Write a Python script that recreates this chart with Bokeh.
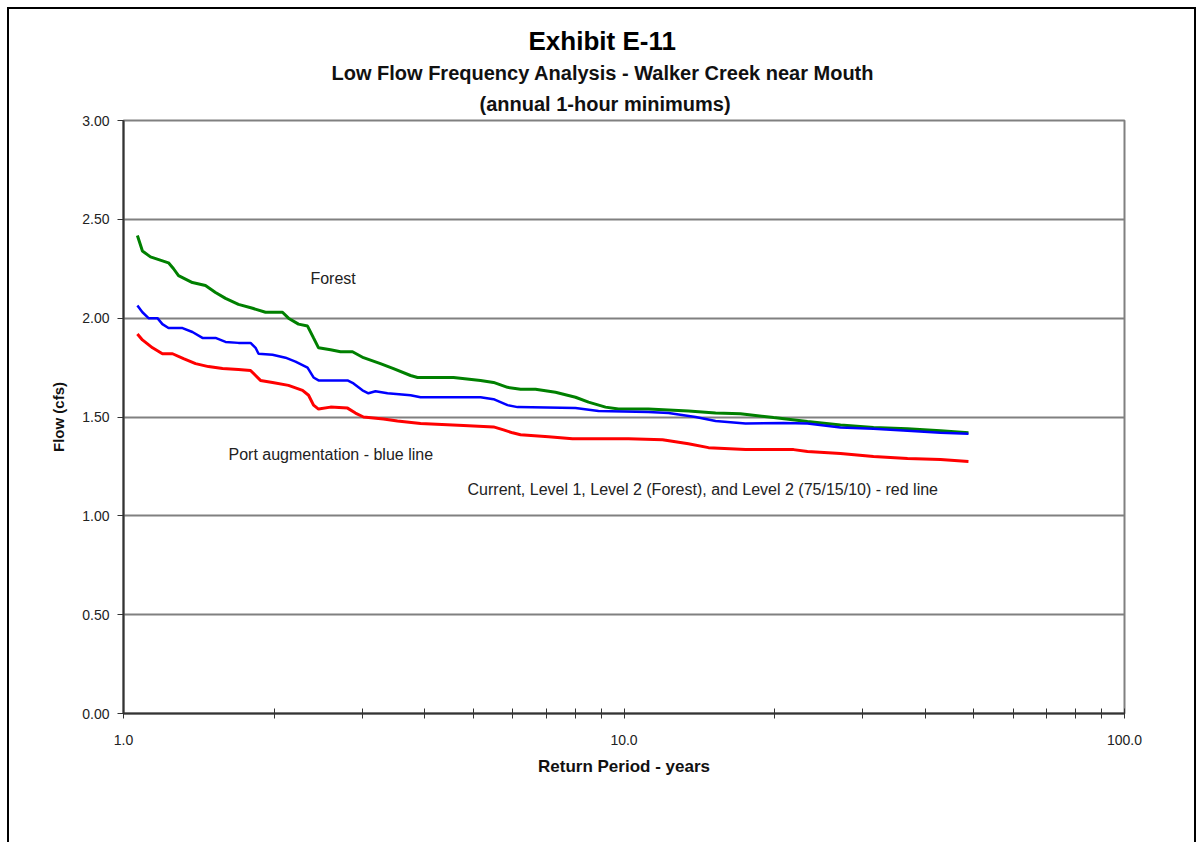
from bokeh.plotting import figure
from bokeh.models import Label, FixedTicker, PrintfTickFormatter, Range1d, Title
from bokeh.embed import file_html
from bokeh.resources import INLINE

# ---------------- data ----------------
forest_x = [1.066, 1.091, 1.132, 1.230, 1.259, 1.288, 1.373, 1.458, 1.527, 1.599,
            1.697, 1.811, 1.922, 2.078, 2.136, 2.237, 2.332, 2.397, 2.453, 2.592,
            2.714, 2.868, 3.016, 3.261, 3.463, 3.745, 3.868, 4.564, 5.168, 5.487,
            5.852, 6.213, 6.656, 7.296, 8.000, 8.494, 9.185, 9.750, 11.19, 13.45,
            15.24, 17.09, 19.90, 23.26, 27.08, 31.51, 36.85, 42.89, 48.78]
forest_y = [2.418, 2.34, 2.31, 2.28, 2.25, 2.215, 2.18, 2.165, 2.13, 2.10,
            2.07, 2.05, 2.03, 2.03, 2.00, 1.97, 1.96, 1.90, 1.85, 1.84,
            1.83, 1.83, 1.80, 1.77, 1.745, 1.71, 1.70, 1.70, 1.685, 1.675,
            1.65, 1.64, 1.64, 1.625, 1.60, 1.575, 1.55, 1.54, 1.54, 1.53,
            1.52, 1.517, 1.497, 1.477, 1.46, 1.447, 1.44, 1.43, 1.42]

port_x = [1.066, 1.091, 1.122, 1.169, 1.196, 1.230, 1.312, 1.373, 1.438, 1.527,
          1.599, 1.697, 1.794, 1.836, 1.861, 1.985, 2.107, 2.206, 2.332, 2.397,
          2.453, 2.803, 2.881, 3.002, 3.086, 3.187, 3.369, 3.745, 3.922, 5.168,
          5.487, 5.852, 6.128, 8.000, 8.894, 11.19, 12.27, 13.90, 15.24, 17.49,
          20.83, 23.26, 27.08, 31.51, 36.85, 42.89, 48.78]
port_y = [2.064, 2.03, 2.00, 2.00, 1.97, 1.95, 1.95, 1.93, 1.90, 1.90,
          1.88, 1.875, 1.875, 1.85, 1.82, 1.815, 1.80, 1.78, 1.75, 1.70,
          1.685, 1.685, 1.67, 1.635, 1.62, 1.63, 1.62, 1.61, 1.60, 1.60,
          1.59, 1.56, 1.55, 1.545, 1.53, 1.525, 1.52, 1.50, 1.48, 1.467,
          1.47, 1.467, 1.447, 1.44, 1.43, 1.42, 1.415]

current_x = [1.066, 1.091, 1.143, 1.196, 1.253, 1.318, 1.393, 1.478, 1.577, 1.697,
             1.794, 1.836, 1.878, 1.985, 2.136, 2.279, 2.343, 2.397, 2.453, 2.592,
             2.803, 2.907, 3.016, 3.307, 3.527, 3.922, 4.778, 5.487, 5.745, 5.988,
             6.213, 7.065, 7.890, 10.21, 11.94, 13.45, 14.75, 17.49, 21.82, 23.26,
             27.08, 31.51, 36.85, 42.89, 48.78]
current_y = [1.92, 1.89, 1.85, 1.82, 1.82, 1.795, 1.77, 1.755, 1.745, 1.74,
             1.735, 1.71, 1.685, 1.675, 1.66, 1.635, 1.61, 1.56, 1.54, 1.55,
             1.545, 1.52, 1.50, 1.49, 1.48, 1.467, 1.457, 1.45, 1.435, 1.42,
             1.41, 1.40, 1.39, 1.39, 1.385, 1.365, 1.345, 1.335, 1.335, 1.325,
             1.315, 1.30, 1.29, 1.285, 1.275]

x_major_ticks = [1, 10, 100]
x_minor_ticks = [2, 3, 4, 5, 6, 7, 8, 9, 20, 30, 40, 50, 60, 70, 80, 90]
y_ticks = [0.0, 0.5, 1.0, 1.5, 2.0, 2.5, 3.0]

title_main = "Exhibit E-11"
title_sub1 = "Low Flow Frequency Analysis - Walker Creek near Mouth"
title_sub2 = "(annual 1-hour minimums)"
label_forest = "Forest"
label_port = "Port augmentation - blue line"
label_current = "Current, Level 1, Level 2 (Forest), and Level 2 (75/15/10) - red line"

FONT = "Liberation Sans"

# ---------------- figure ----------------
p = figure(x_axis_type="log",
           x_range=Range1d(1, 100), y_range=Range1d(0, 3),
           output_backend="svg", toolbar_location=None,
           min_border_left=114, min_border_top=111,
           min_border_right=70, min_border_bottom=129,
           frame_width=1001, frame_height=593)
p.styles = {"margin-left": "7px", "margin-top": "7px",
            "border-left": "2px solid black", "border-top": "2px solid black",
            "border-right": "2px solid black"}
p.background_fill_color = "white"
p.border_fill_color = "white"
p.outline_line_color = "#808080"
p.outline_line_width = 2

# grid
p.xgrid.grid_line_color = None
p.ygrid.grid_line_color = "#808080"
p.ygrid.grid_line_width = 2

# x axis
xa = p.xaxis[0]
xa.ticker = FixedTicker(ticks=x_major_ticks, minor_ticks=x_minor_ticks)
xa.formatter = PrintfTickFormatter(format="%.1f")
xa.axis_line_color = "#333333"
xa.axis_line_width = 2
xa.major_tick_in = 5
xa.major_tick_out = 5
xa.minor_tick_in = 5
xa.minor_tick_out = 5
xa.major_tick_line_color = "#333333"
xa.minor_tick_line_color = "#333333"
xa.major_label_standoff = 16
xa.major_label_text_font = FONT
xa.major_label_text_font_size = "14px"
xa.major_label_text_color = "#222222"
xa.axis_label = "Return Period - years"
xa.axis_label_text_font = FONT
xa.axis_label_text_font_style = "bold"
xa.axis_label_text_font_size = "17px"
xa.axis_label_text_color = "#111111"
xa.axis_label_standoff = 9

# y axis
ya = p.yaxis[0]
ya.ticker = FixedTicker(ticks=y_ticks, minor_ticks=[])
ya.formatter = PrintfTickFormatter(format="%.2f")
ya.axis_line_color = "#333333"
ya.axis_line_width = 2
ya.major_tick_in = 0
ya.major_tick_out = 6
ya.major_tick_line_color = "#333333"
ya.minor_tick_line_color = None
ya.major_label_standoff = 8
ya.major_label_text_font = FONT
ya.major_label_text_font_size = "14px"
ya.major_label_text_color = "#222222"
ya.axis_label = "Flow (cfs)"
ya.axis_label_text_font = FONT
ya.axis_label_text_font_style = "bold"
ya.axis_label_text_font_size = "15px"
ya.axis_label_text_color = "#111111"
ya.axis_label_standoff = 12

# lines
p.line(forest_x, forest_y, line_color="#008000", line_width=3)
p.line(port_x, port_y, line_color="#0000FF", line_width=2.5)
p.line(current_x, current_y, line_color="#FF0000", line_width=3)

# titles (later added = further from the frame); left-aligned with offsets
p.title.visible = False
p.add_layout(Title(text=title_sub2, align="left", text_font=FONT, text_font_style="bold",
                   text_font_size="20px", text_color="#111111", standoff=12, offset=356), "above")
p.add_layout(Title(text=title_sub1, align="left", text_font=FONT, text_font_style="bold",
                   text_font_size="20px", text_color="#111111", standoff=2, offset=208), "above")
p.add_layout(Title(text=title_main, align="left", text_font=FONT, text_font_style="bold",
                   text_font_size="26px", text_color="black", standoff=5, offset=405), "above")

# in-plot annotations
for tx, ty, t in [(2.363, 2.20, label_forest), (1.621, 1.31, label_port),
                  (4.868, 1.133, label_current)]:
    p.add_layout(Label(x=tx, y=ty, text=t, text_font=FONT, text_font_size="16px",
                       text_align="left", text_baseline="middle", text_color="#222222"))

open("out.html", "w").write(file_html(p, INLINE))
